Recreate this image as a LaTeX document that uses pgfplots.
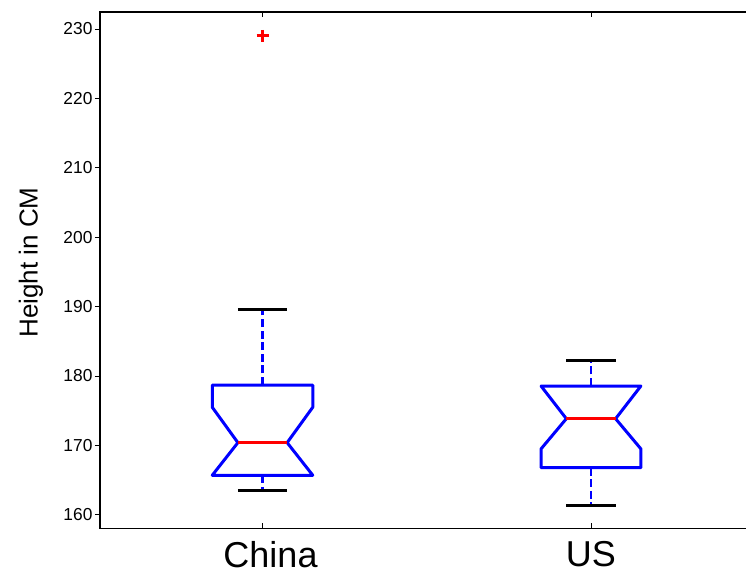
\documentclass[border=0pt]{standalone}
\usepackage{fontspec}
\setmainfont{Liberation Sans}
\usepackage{pgfplots}
\pgfplotsset{compat=1.18}
\begin{document}
\begin{tikzpicture}
\begin{axis}[
  at={(0,0)}, anchor=south west,
  scale only axis, width=484.5pt, height=387.375pt,
  xmin=0.5052, xmax=2.472, ymin=158.03, ymax=232.45,
  axis line style={draw=none},
  xtick={1,2}, xticklabels={{\hspace*{12pt}China},US},
  ytick={160,170,...,230},
  tick align=inside, major tick length=3.75pt,
  xtick pos=both, ytick pos=left,
  tick style={black, line width=0.6pt},
  ytick style={xshift=-3.75pt},
  /pgf/number format/assume math mode=true,
  yticklabel style={font=\fontsize{13}{15}\selectfont, inner sep=0pt, anchor=east, xshift=-5.5pt},
  xticklabel style={font=\fontsize{27}{32}\selectfont, inner sep=0pt, anchor=north, yshift=-9.6pt},
  ylabel={Height in CM},
  ylabel style={font=\fontsize{19.5}{23}\selectfont, at={(rel axis cs:-0.107,0.515)}, anchor=center},
  clip=false,
]
% axis frame (right side cropped)
\draw[line width=0.8pt, line join=miter] (rel axis cs:1,1) -- (rel axis cs:0,1) -- (rel axis cs:0,0) -- (rel axis cs:1,0);

% ---- China ----
\addplot[blue, line width=1.9pt, dash pattern=on 6pt off 2.7pt] coordinates {(1,178.7) (1,189.6)};
\addplot[blue, line width=1.9pt, dash pattern=on 6pt off 2.7pt] coordinates {(1,165.7) (1,163.5)};
\addplot[blue, line width=2.25pt, line join=round, line cap=round] coordinates {
 (0.847,178.7) (1.153,178.7) (1.153,175.5) (1.075,170.4) (1.153,165.7)
 (0.847,165.7) (0.925,170.4) (0.847,175.5) (0.847,178.7)};
\addplot[black, line width=2.25pt] coordinates {(0.925,189.6) (1.075,189.6)};
\addplot[black, line width=2.25pt] coordinates {(0.925,163.5) (1.075,163.5)};
\addplot[red, line width=2.25pt] coordinates {(0.925,170.4) (1.075,170.4)};
\addplot[only marks, mark=+, red, mark size=4.5pt, line width=2.3pt] coordinates {(1,229.0)};

% ---- US ----
\addplot[blue, line width=1.9pt, dash pattern=on 6pt off 2.7pt] coordinates {(2,178.56) (2,182.2)};
\addplot[blue, line width=1.9pt, dash pattern=on 6pt off 2.7pt] coordinates {(2,166.8) (2,161.3)};
\addplot[blue, line width=2.25pt, line join=round, line cap=round] coordinates {
 (1.848,178.56) (2.152,178.56) (2.075,173.85) (2.152,169.5) (2.152,166.8)
 (1.848,166.8) (1.848,169.5) (1.925,173.85) (1.848,178.56)};
\addplot[black, line width=2.25pt] coordinates {(1.925,182.2) (2.075,182.2)};
\addplot[black, line width=2.25pt] coordinates {(1.925,161.3) (2.075,161.3)};
\addplot[red, line width=2.25pt] coordinates {(1.925,173.85) (2.075,173.85)};
\end{axis}
\pgfresetboundingbox
\path (-75pt,-34.125pt) rectangle (484.5pt,396.375pt);
\end{tikzpicture}
\end{document}
